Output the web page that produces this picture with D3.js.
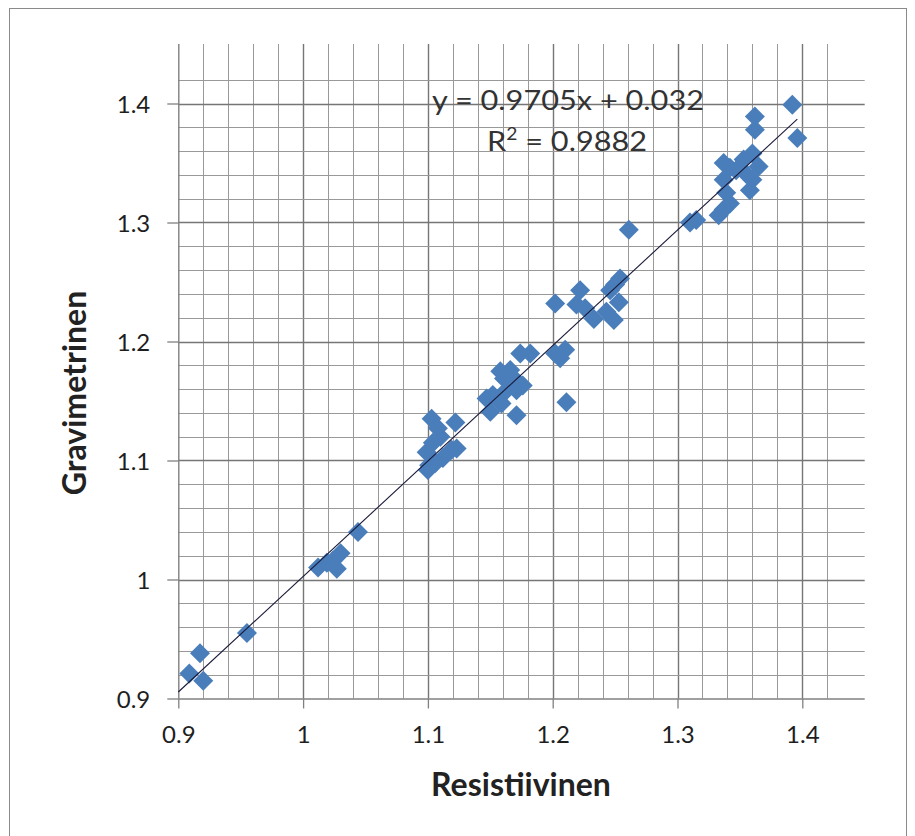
<!DOCTYPE html>
<html>
<head>
<meta charset="utf-8">
<script src="https://cdn.jsdelivr.net/npm/d3@7"></script>
<style>
  html, body { margin: 0; padding: 0; background: #fff; }
  svg { display: block; }
</style>
</head>
<body>
<svg id="chart" width="915" height="836"></svg>
<script>
// Resistive vs gravimetric measurements
const resistiivinen = [
  0.9088, 0.9174, 0.920, 0.955,
  1.012, 1.019, 1.024, 1.030, 1.027, 1.044,
  1.103, 1.122, 1.110, 1.104, 1.099, 1.100, 1.119, 1.123, 1.112, 1.106, 1.101, 1.108,
  1.147, 1.152, 1.150, 1.159, 1.163, 1.171, 1.176, 1.158, 1.166, 1.168, 1.161, 1.171,
  1.174, 1.182, 1.202, 1.210, 1.206, 1.211,
  1.202, 1.219, 1.222, 1.226, 1.233, 1.243, 1.249, 1.253, 1.246, 1.250, 1.254, 1.261,
  1.310, 1.315, 1.333, 1.337, 1.342, 1.339, 1.337, 1.337, 1.342, 1.347, 1.353, 1.355,
  1.360, 1.358, 1.360, 1.365, 1.362, 1.362, 1.392, 1.396
];
const gravimetrinen = [
  0.921, 0.938, 0.915, 0.955,
  1.010, 1.014, 1.016, 1.022, 1.009, 1.040,
  1.135, 1.132, 1.120, 1.115, 1.107, 1.092, 1.109, 1.110, 1.102, 1.098, 1.096, 1.127,
  1.152, 1.155, 1.141, 1.148, 1.159, 1.159, 1.163, 1.175, 1.176, 1.170, 1.169, 1.138,
  1.190, 1.190, 1.190, 1.193, 1.186, 1.149,
  1.232, 1.231, 1.243, 1.228, 1.219, 1.225, 1.218, 1.233, 1.243, 1.248, 1.253, 1.294,
  1.300, 1.302, 1.306, 1.311, 1.316, 1.325, 1.336, 1.350, 1.346, 1.344, 1.353, 1.341,
  1.336, 1.327, 1.358, 1.347, 1.378, 1.389, 1.399, 1.371
];

// Axis settings
const axisMin = 0.9, axisMax = 1.45;
const majorTicks = [0.9, 1, 1.1, 1.2, 1.3, 1.4];
const majorLabels = ["0.9", "1", "1.1", "1.2", "1.3", "1.4"];
const minorStep = 0.02;

// Linear fit shown on the chart
const slope = 0.9705, intercept = 0.032;
const equationText = "y = 0.9705x + 0.032";
const r2Text = "0.9882";
const xTitle = "Resistiivinen";
const yTitle = "Gravimetrinen";

const svg = d3.select("#chart");
const plot = { left: 178.3, right: 864.7, top: 44, bottom: 698.5 };

const x = d3.scaleLinear().domain([axisMin, axisMax]).range([plot.left, plot.right]);
const y = d3.scaleLinear().domain([axisMin, axisMax]).range([plot.bottom, plot.top]);

// outer frame
svg.append("rect")
  .attr("x", 9.5).attr("y", 8.5).attr("width", 897).attr("height", 840)
  .attr("fill", "#fff").attr("stroke", "#8a8a8a").attr("stroke-width", 1);

const minorVals = d3.range(0, Math.round((axisMax - axisMin) / minorStep))
  .map(i => +(axisMin + i * minorStep).toFixed(2))
  .filter(v => v > axisMin);
const isMajor = v => majorTicks.some(m => Math.abs(m - v) < 1e-6);

const grid = svg.append("g");
// vertical gridlines
grid.selectAll("line.vx").data(minorVals).join("line")
  .attr("x1", d => Math.round(x(d)) + 0.5).attr("x2", d => Math.round(x(d)) + 0.5)
  .attr("y1", plot.top).attr("y2", plot.bottom)
  .attr("stroke", d => isMajor(d) ? "#767676" : "#999")
  .attr("stroke-width", d => isMajor(d) ? 1.4 : 1);
// horizontal gridlines
grid.selectAll("line.hy").data(minorVals).join("line")
  .attr("y1", d => Math.round(y(d)) + 0.5).attr("y2", d => Math.round(y(d)) + 0.5)
  .attr("x1", plot.left).attr("x2", plot.right)
  .attr("stroke", d => isMajor(d) ? "#767676" : "#999")
  .attr("stroke-width", d => isMajor(d) ? 1.4 : 1);

// axes
const xAxis = d3.axisBottom(x).tickValues(majorTicks).tickSize(10).tickFormat((d, i) => majorLabels[i]);
const yAxis = d3.axisLeft(y).tickValues(majorTicks).tickSize(11).tickFormat((d, i) => majorLabels[i]);

const gx = svg.append("g").attr("transform", `translate(0,${plot.bottom})`).call(xAxis);
const gy = svg.append("g").attr("transform", `translate(${plot.left},0)`).call(yAxis);
[gx, gy].forEach(g => {
  g.select(".domain").attr("stroke", "#808080").attr("stroke-width", 1.4);
  g.selectAll(".tick line").attr("stroke", "#808080").attr("stroke-width", 1.3);
  g.selectAll(".tick text")
    .attr("font-family", "Lato, 'Open Sans', sans-serif")
    .attr("font-size", 24).attr("fill", "#1e1e1e");
});
gx.select(".domain").attr("d", `M${plot.left},0.5H${plot.right}`);
gy.select(".domain").attr("d", `M0.5,${plot.top}V${plot.bottom}`);
gx.selectAll(".tick text").attr("dy", null).attr("y", 44.5).attr("dominant-baseline", "auto");
gy.selectAll(".tick text").attr("x", -28).attr("dy", "0.36em");

// trendline over the data range
const xLo = axisMin, xHi = d3.max(resistiivinen);

// diamond markers
const pts = resistiivinen.map((v, i) => [v, gravimetrinen[i]]);
const h = 10;
svg.append("g").selectAll("path").data(pts).join("path")
  .attr("d", d => {
    const cx = x(d[0]), cy = y(d[1]);
    return `M${cx},${cy - h}L${cx + h},${cy}L${cx},${cy + h}L${cx - h},${cy}Z`;
  })
  .attr("fill", "#4a7ebb");

// trendline drawn above the markers
svg.append("line")
  .attr("x1", x(xLo)).attr("y1", y(slope * xLo + intercept))
  .attr("x2", x(xHi)).attr("y2", y(slope * xHi + intercept))
  .attr("stroke", "#1a1a3a").attr("stroke-width", 1.1);

// equation label
const eq = svg.append("g").attr("font-family", "Lato, 'Open Sans', sans-serif").attr("fill", "#333");
eq.append("text").attr("x", 568).attr("y", 110).attr("text-anchor", "middle")
  .attr("font-size", 27).attr("textLength", 272).attr("lengthAdjust", "spacingAndGlyphs")
  .text(equationText);
const r2 = eq.append("text").attr("x", 567).attr("y", 151).attr("text-anchor", "middle")
  .attr("font-size", 27).attr("textLength", 160).attr("lengthAdjust", "spacingAndGlyphs");
r2.append("tspan").text("R");
r2.append("tspan").attr("font-size", 17).attr("dy", -11).text("2");
r2.append("tspan").attr("dy", 11).text(" = " + r2Text);

// axis titles
svg.append("text")
  .attr("x", 521).attr("y", 796).attr("text-anchor", "middle")
  .attr("font-family", "Lato, 'Open Sans', sans-serif").attr("font-weight", "bold")
  .attr("font-size", 32).attr("fill", "#222")
  .text(xTitle);
svg.append("text")
  .attr("transform", "translate(86,393) rotate(-90)")
  .attr("text-anchor", "middle")
  .attr("font-family", "Lato, 'Open Sans', sans-serif").attr("font-weight", "bold")
  .attr("font-size", 32).attr("fill", "#222")
  .text(yTitle);
</script>
</body>
</html>
